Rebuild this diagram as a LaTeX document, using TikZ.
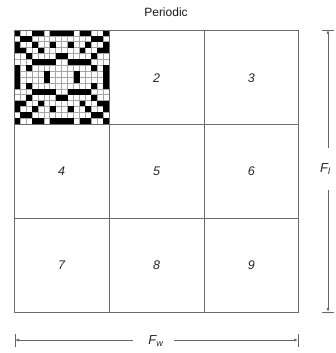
\documentclass[tikz,border=0pt]{standalone}
\usepackage{fontspec}
\setmainfont{Liberation Sans}
\usetikzlibrary{arrows.meta}
\tikzset{
  gridline/.style={draw=black!58, line width=0.85pt},
  patline/.style={draw=black!35, line width=0.5pt},
  dimline/.style={draw=black!60, line width=0.7pt},
  dimtick/.style={draw=black!60, line width=0.7pt},
  dimarrow/.style={dimline, -{Latex[length=4pt,width=3pt]}},
  numlabel/.style={font=\fontsize{12.5}{12.5}\selectfont\itshape, text=black!85, inner sep=0pt},
  dimlabel/.style={font=\fontsize{13}{13}\selectfont\itshape, text=black!85, inner sep=1pt},
  titlelabel/.style={font=\fontsize{12}{12}\selectfont, text=black!90, inner sep=0pt}
}
\begin{document}
\begin{tikzpicture}[x=1pt,y=-1pt]
\useasboundingbox (0,0) rectangle (335,353);
% title
\node[titlelabel] (title) at (166,12) {Periodic};
% pattern in cell 1
\fill[white] (14,30) rectangle (109.3,124);
\foreach \k in {1,...,15} {
  \draw[patline] ({14+\k*5.956},30) -- ({14+\k*5.956},124);
  \draw[patline] (14,{30+\k*5.875}) -- (109.3,{30+\k*5.875});
}
\foreach \c/\r in {0/0,3/0,4/0,6/0,7/0,
                   1/1,2/1,
                   0/2,3/2,6/2,
                   0/3,1/3,4/3,
                   2/4,7/4,
                   3/5,4/5,5/5,6/5,
                   0/6,2/6,
                   0/7,5/7} {
  \fill[black] ({14+\c*5.956},{30+\r*5.875}) rectangle ++(5.956,5.875);
  \fill[black] ({14+(15-\c)*5.956},{30+\r*5.875}) rectangle ++(5.956,5.875);
  \fill[black] ({14+\c*5.956},{30+(15-\r)*5.875}) rectangle ++(5.956,5.875);
  \fill[black] ({14+(15-\c)*5.956},{30+(15-\r)*5.875}) rectangle ++(5.956,5.875);
}
% main grid
\draw[gridline] (14,30) rectangle (298,312);
\draw[gridline] (109.3,30) -- (109.3,312);
\draw[gridline] (204,30) -- (204,312);
\draw[gridline] (14,124) -- (298,124);
\draw[gridline] (14,218) -- (298,218);
% numbers
\node[numlabel] (n2) at (156.7,78) {2};
\node[numlabel] (n3) at (251.3,78) {3};
\node[numlabel] (n4) at (61.5,171) {4};
\node[numlabel] (n5) at (156.7,171) {5};
\node[numlabel] (n6) at (251.3,171) {6};
\node[numlabel] (n7) at (61.5,265) {7};
\node[numlabel] (n8) at (156.7,265) {8};
\node[numlabel] (n9) at (251.3,265) {9};
% F_l dimension
\coordinate (lt) at (328,30);
\coordinate (lb) at (328,312);
\node[dimlabel, anchor=west] (fl) at (319,169) {F\textsubscript{\itshape l}};
\draw[dimtick] (322,30) -- (334,30);
\draw[dimtick] (322,312) -- (334,312);
\draw[dimarrow] (328,148) -- (lt);
\draw[dimarrow] (328,190) -- (lb);
% F_w dimension
\coordinate (wl) at (15,340);
\coordinate (wr) at (298,340);
\node[dimlabel] (fw) at (156,341) {F\textsubscript{w}};
\draw[dimtick] (15,334) -- (15,347);
\draw[dimtick] (298,334) -- (298,347);
\draw[dimarrow] (133,340) -- (wl);
\draw[dimarrow] (174,340) -- (wr);
\end{tikzpicture}
\end{document}
